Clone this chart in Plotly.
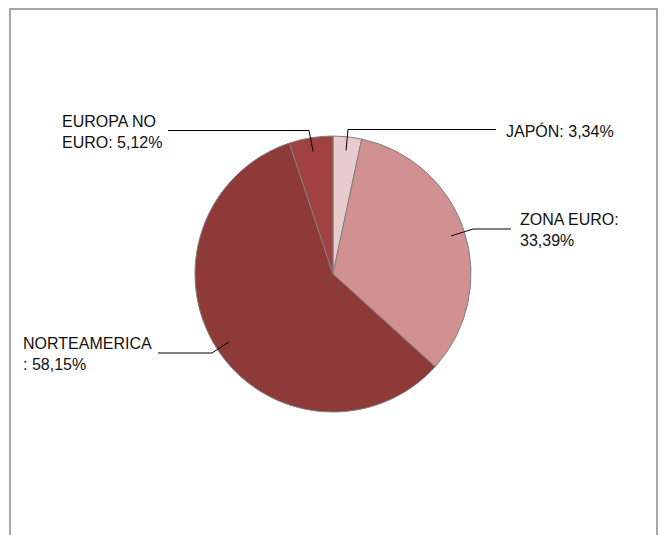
import math
import plotly.graph_objects as go

W, H = 669, 535
OFF = 8  # margen por defecto del <body> de la página

# Datos del gráfico
regiones = ["JAPÓN", "ZONA EURO", "NORTEAMERICA", "EUROPA NO EURO"]
porcentajes = [3.34, 33.39, 58.15, 5.12]
etiquetas = ["JAPÓN: 3,34%", "ZONA EURO:<br>33,39%", "NORTEAMERICA<br>: 58,15%", "EUROPA NO<br>EURO: 5,12%"]
colores = ["#e8cccd", "#d29191", "#8e3a38", "#a14241"]

# geometría del pastel (px de la ventana)
CX, CY, R = 333, 274, 138

# codos / extremos de las líneas guía y posición de los textos (px de la ventana)
codos = [(348, 129.5), (473, 229), (212, 353), (309, 130.5)]
extremos_x = [496, 511, 158, 168]
texto_pos = [(504, 131), (518, 229.5), (21, 354), (60, 131.5)]


def px(x, y):
    return (x - OFF) / W, 1 - (y - OFF) / H


fig = go.Figure(go.Pie(
    labels=regiones,
    values=porcentajes,
    sort=False,
    direction="clockwise",
    rotation=0,
    marker=dict(colors=colores, line=dict(color="#7f7f7f", width=1)),
    textinfo="none",
    hovertemplate="%{label}: %{value:.2f}%<extra></extra>",
    showlegend=False,
    domain=dict(
        x=[(CX - OFF - R) / W, (CX - OFF + R) / W],
        y=[(H - (CY - OFF) - R) / H, (H - (CY - OFF) + R) / H],
    ),
))

# marco del gráfico (el borde superior queda pegado al borde de la figura)
x0, _ = px(10, 0)
x1, _ = px(657, 0)
shapes = [
    dict(type="rect", xref="paper", yref="paper",
         x0=x0, x1=x1, y0=-0.1, y1=1 - 1 / H,
         line=dict(color="#8a8a8a", width=1.5), layer="below"),
]
annotations = []

total = sum(porcentajes)
acum = 0.0
for i, v in enumerate(porcentajes):
    ang = (acum + v / 2) / total * 2 * math.pi
    acum += v
    ix = CX + math.sin(ang) * R * 0.9
    iy = CY - math.cos(ang) * R * 0.9
    ex, ey = codos[i]
    pts = [px(ix, iy), px(ex, ey), px(extremos_x[i], ey)]
    path = "M {} {} L {} {} L {} {}".format(*[c for p in pts for c in p])
    shapes.append(dict(type="path", xref="paper", yref="paper", path=path,
                       line=dict(color="#000000", width=1)))
    tx, ty = px(*texto_pos[i])
    annotations.append(dict(
        text=etiquetas[i], x=tx, y=ty, xref="paper", yref="paper",
        xanchor="left", yanchor="middle", align="left", showarrow=False,
        font=dict(family="Liberation Sans, Arial, sans-serif", size=16, color="#111111"),
    ))

fig.update_layout(
    width=W,
    height=H,
    autosize=False,
    margin=dict(l=0, r=0, t=0, b=0),
    paper_bgcolor="#ffffff",
    plot_bgcolor="#ffffff",
    shapes=shapes,
    annotations=annotations,
)

fig.write_html("out.html")
